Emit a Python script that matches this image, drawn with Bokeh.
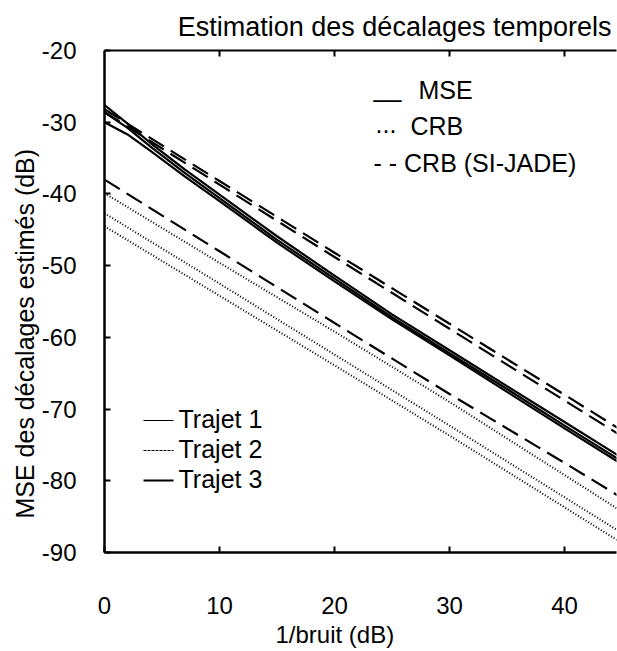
from bokeh.plotting import figure
from bokeh.models import Label, Arrow, LinearAxis, FixedTicker, Range1d, Title
from bokeh.embed import file_html
from bokeh.resources import INLINE

# ---- data ----
x_ticks = [0, 10, 20, 30, 40]
y_ticks = [-90, -80, -70, -60, -50, -40, -30, -20]

# MSE (solid lines), one per path
x_mse = [0, 2, 4, 7, 10, 15, 20, 25, 30, 35, 40, 45]
mse_trajet1 = [-27.6, -30.2, -32.9, -36.6, -40.1, -45.9, -51.4, -56.8, -61.8, -66.8, -71.8, -76.8]
mse_trajet2 = [-28.6, -30.8, -33.4, -37.1, -40.6, -46.4, -51.8, -57.2, -62.2, -67.2, -72.3, -77.3]
mse_trajet3 = [-30.0, -31.7, -34.0, -37.6, -41.0, -46.8, -52.2, -57.5, -62.5, -67.6, -72.7, -77.7]

# CRB (dotted) and CRB (SI-JADE) (dashed)
x_crb = [0, 10, 20, 30, 40, 45]
crb_trajet1 = [-39.9, -49.6, -59.2, -69.0, -79.2, -84.3]
crb_trajet2 = [-42.7, -52.5, -62.4, -72.3, -82.3, -87.3]
crb_trajet3 = [-44.5, -54.2, -63.9, -73.7, -83.7, -88.7]
crb_sijade_trajet1 = [-28.2, -38.2, -48.2, -58.1, -68.0, -73.0]
crb_sijade_trajet2 = [-28.6, -38.7, -48.8, -58.8, -68.8, -73.8]
crb_sijade_trajet3 = [-38.0, -48.0, -58.0, -67.9, -77.5, -82.4]

title_text = "Estimation des décalages temporels"
x_label = "1/bruit (dB)"
y_label = "MSE des décalages estimés (dB)"

FONT = "Liberation Sans"

p = figure(width=617, height=651,
           x_range=Range1d(0, 44.52), y_range=Range1d(-90, -20),
           output_backend="svg", toolbar_location=None,
           min_border_left=104, min_border_right=1,
           min_border_top=50, min_border_bottom=99,
           x_axis_location=None, y_axis_location=None)
p.outline_line_color = None
p.grid.visible = False
p.background_fill_color = "white"
p.border_fill_color = "white"

p.title.text = title_text
p.title.align = "right"
p.title.offset = 5
p.title.text_font = FONT
p.title.text_font_size = "27px"
p.title.text_font_style = "normal"
p.title.text_color = "black"
p.title.standoff = 18

def style_axis(ax, show_labels=True, lw=2.5):
    ax.axis_line_color = "black"
    ax.axis_line_width = lw
    ax.major_tick_in = 6
    ax.major_tick_out = 0
    ax.major_tick_line_width = 2
    ax.minor_tick_line_color = None
    ax.major_label_text_font = FONT
    ax.major_label_text_font_size = "24px"
    ax.major_label_text_color = "black" if show_labels else None

bottom = LinearAxis(ticker=FixedTicker(ticks=x_ticks))
style_axis(bottom)
bottom.major_label_standoff = 44
p.add_layout(bottom, "below")

left = LinearAxis(ticker=FixedTicker(ticks=y_ticks),
                  major_label_overrides={t: "%d" % t for t in y_ticks})
style_axis(left)
left.major_label_standoff = 28
p.add_layout(left, "left")

top = LinearAxis(ticker=FixedTicker(ticks=[10, 20, 30, 40]))
style_axis(top, show_labels=False, lw=2)
top.major_label_text_font_size = "1px"
top.major_label_standoff = 0
p.add_layout(top, "above")

# axis titles placed as side titles so they can be shifted like the reference
xt = Title(text=x_label, align="left", offset=171, text_font=FONT,
           text_font_size="24px", text_font_style="normal", text_color="black", standoff=4)
p.add_layout(xt, "below")
yt = Title(text=y_label, align="left", offset=34, text_font=FONT,
           text_font_size="25px", text_font_style="normal", text_color="black", standoff=0)
p.add_layout(yt, "left")

# ---- lines ----
for ys in (mse_trajet1, mse_trajet2, mse_trajet3):
    p.line(x_mse, ys, line_color="black", line_width=2.2)
for ys in (crb_trajet1, crb_trajet2, crb_trajet3):
    p.line(x_crb, ys, line_color="black", line_width=2, line_dash="1 2")
for ys in (crb_sijade_trajet1, crb_sijade_trajet2, crb_sijade_trajet3):
    p.line(x_crb, ys, line_color="black", line_width=2.2, line_dash="18 8")

# ---- in-plot texts ----
def lab(x, y, text, size="25px", align="left"):
    p.add_layout(Label(x=x, y=y, x_units="screen", y_units="screen", text=text,
                       text_font=FONT, text_font_size=size, text_color="black",
                       text_align=align, text_baseline="middle"))

# style legend (typed symbols)
lab(269, 465, "__")
lab(314, 463, "MSE")
lab(271, 429, "...")
lab(306, 427, "CRB")
lab(269, 390, "- - CRB (SI-JADE)")

# path legend
for i, (lw, dash) in enumerate([(1.2, "solid"), (1.0, "3 1"), (2.0, "solid")]):
    ys = 132 - 30 * i
    p.add_layout(Arrow(start=None, end=None, x_start=39, y_start=ys, x_end=69, y_end=ys,
                       start_units="screen", end_units="screen",
                       line_color="black", line_width=lw, line_dash=dash))
    lab(74, ys + 2, "Trajet %d" % (i + 1))

open("out.html", "w").write(file_html(p, INLINE))
